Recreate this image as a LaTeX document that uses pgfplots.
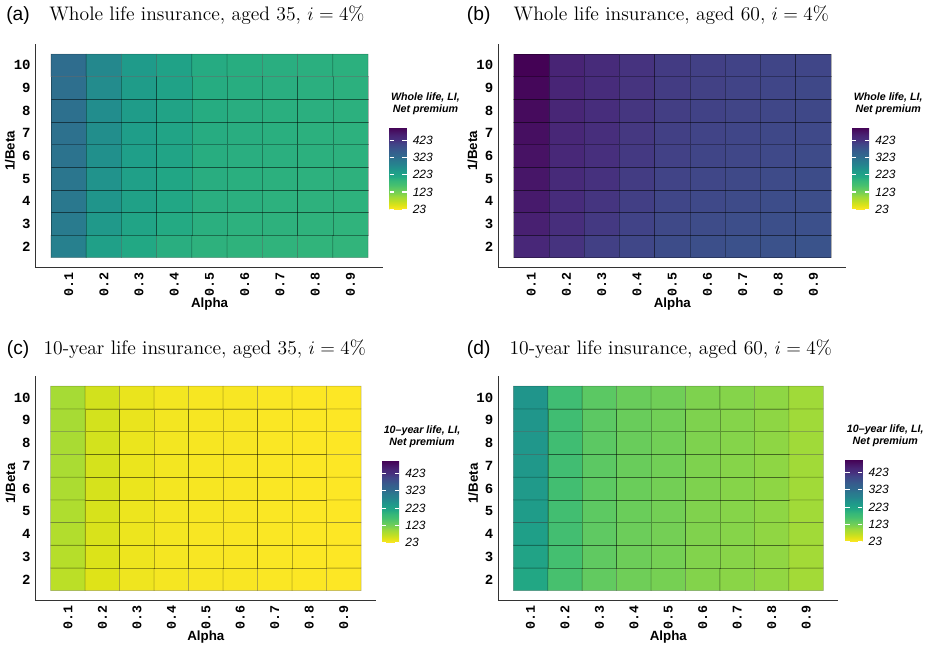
\documentclass[border=0pt]{standalone}
\usepackage{fontspec}
\usepackage{pgfplots}
\pgfplotsset{compat=1.18}
\newfontfamily\lsans{Liberation Sans}
\newfontfamily\lmono{Liberation Mono}

\pgfplotsset{
  colormap={viridisr}{rgb255=(253,231,37) rgb255=(223,227,24) rgb255=(189,223,38) rgb255=(160,218,57) rgb255=(122,209,81) rgb255=(94,201,98) rgb255=(68,191,112) rgb255=(53,183,121) rgb255=(34,168,132) rgb255=(31,158,137) rgb255=(33,145,140) rgb255=(38,130,142) rgb255=(42,120,142) rgb255=(49,104,142) rgb255=(53,95,141) rgb255=(59,82,139) rgb255=(65,68,135) rgb255=(71,47,125) rgb255=(72,36,117) rgb255=(71,19,101) rgb255=(68,1,84)},
  hm/.style={
    scale only axis, anchor=south west,
    xmin=0.07, xmax=9.93, ymin=1.06, ymax=10.94,
    axis x line=bottom, axis y line=left,
    axis line style={-, line width=0.8pt, black!80},
    major tick length=0pt,
    xtick={1,2,3,4,5,6,7,8,9},
    xticklabels={0.1,0.2,0.3,0.4,0.5,0.6,0.7,0.8,0.9},
    ytick={2,3,4,5,6,7,8,9,10},
    yticklabels={2,3,4,5,6,7,8,9,10},
    xticklabel style={rotate=90, anchor=east, inner sep=3.4pt, font=\fontsize{10}{10}\lmono\bfseries},
    yticklabel style={anchor=east, inner sep=0pt, xshift=-3.75pt, font=\fontsize{10.5}{10.5}\lmono\bfseries},
    xlabel={Alpha}, ylabel={1/Beta},
    every axis x label/.style={at={(axis description cs:0.5,-0.163)}, anchor=center, font=\fontsize{10}{10}\lsans\bfseries},
    every axis y label/.style={at={(axis description cs:-0.075,0.522)}, rotate=90, anchor=center, font=\fontsize{10}{10}\lsans\bfseries},
    colormap name=viridisr,
    point meta min=23, point meta max=497,
    colorbar,
  },
  cb/.style={
    at={(parent axis.south west)}, anchor=south west,
    scale only axis, width=12.75pt, height=61.5pt,
    ytick={23,123,223,323,423}, yticklabels={23,123,223,323,423},
    ytick pos=both, yticklabel pos=right, tick align=inside,
    major tick length=3.2pt,
    tick style={draw=white, line width=0.8pt},
    axis line style={draw=none},
    yticklabel style={anchor=west, inner sep=0pt, xshift=4.5pt, font=\fontsize{9}{9}\lsans\itshape},
    title style={at={(0,1)}, anchor=south west, align=center, inner sep=0pt, yshift=3.2pt, xshift=1pt, font=\fontsize{8}{9}\lsans\bfseries\itshape},
  },
  cells/.style={matrix plot*, mesh/cols=9, mesh/rows=9, point meta=explicit, draw=black, draw opacity=0.3, line width=0.4pt},
}

\begin{document}
\begin{tikzpicture}
\useasboundingbox (0,0) rectangle (695.25pt,486.75pt);

% titles
\node[anchor=base west, inner sep=0pt, font=\fontsize{14.4}{17}\lsans] at (4.5pt,471pt) {(a)};
\node[anchor=base west, inner sep=0pt, font=\fontsize{14.7}{17}\selectfont] at (36.75pt,471pt) {Whole life insurance, aged 35, $i=4\%$};
\node[anchor=base west, inner sep=0pt, font=\fontsize{14.4}{17}\lsans] at (350pt,471pt) {(b)};
\node[anchor=base west, inner sep=0pt, font=\fontsize{14.7}{17}\selectfont] at (385pt,471pt) {Whole life insurance, aged 60, $i=4\%$};
\node[anchor=base west, inner sep=0pt, font=\fontsize{14.4}{17}\lsans] at (5pt,220.5pt) {(c)};
\node[anchor=base west, inner sep=0pt, font=\fontsize{14.7}{17}\selectfont] at (32.5pt,220.5pt) {10-year life insurance, aged 35, $i=4\%$};
\node[anchor=base west, inner sep=0pt, font=\fontsize{14.4}{17}\lsans] at (350pt,220.5pt) {(d)};
\node[anchor=base west, inner sep=0pt, font=\fontsize{14.7}{17}\selectfont] at (382pt,220.5pt) {10-year life insurance, aged 60, $i=4\%$};

% (a)
\begin{axis}[hm, at={(26.9pt,285.98pt)}, width=260.5pt, height=167.7pt,
  colorbar style={cb, xshift=256.7pt, yshift=43.8pt, title={Whole life, LI,\\Net premium}}]
\addplot[cells] coordinates {
(1,2)[288] (2,2)[232] (3,2)[213] (4,2)[203] (5,2)[198] (6,2)[196] (7,2)[195] (8,2)[194] (9,2)[193]
(1,3)[300] (2,3)[245] (3,3)[222] (4,3)[210] (5,3)[201] (6,3)[199] (7,3)[198] (8,3)[196] (9,3)[195]
(1,4)[307] (2,4)[252] (3,4)[228] (4,4)[215] (5,4)[203] (6,4)[201] (7,4)[199] (8,4)[198] (9,4)[197]
(1,5)[311] (2,5)[257] (3,5)[232] (4,5)[218] (5,5)[204] (6,5)[202] (7,5)[200] (8,5)[199] (9,5)[198]
(1,6)[314] (2,6)[261] (3,6)[235] (4,6)[221] (5,6)[205] (6,6)[203] (7,6)[201] (8,6)[200] (9,6)[199]
(1,7)[317] (2,7)[264] (3,7)[237] (4,7)[223] (5,7)[206] (6,7)[204] (7,7)[202] (8,7)[200] (9,7)[199]
(1,8)[319] (2,8)[266] (3,8)[239] (4,8)[224] (5,8)[207] (6,8)[204] (7,8)[202] (8,8)[201] (9,8)[200]
(1,9)[321] (2,9)[268] (3,9)[240] (4,9)[226] (5,9)[207] (6,9)[205] (7,9)[203] (8,9)[201] (9,9)[200]
(1,10)[323] (2,10)[274] (3,10)[241] (4,10)[227] (5,10)[208] (6,10)[205] (7,10)[203] (8,10)[201] (9,10)[200]
};
\end{axis}

% (b)
\begin{axis}[hm, at={(373.9pt,285.98pt)}, width=260.7pt, height=167.7pt,
  colorbar style={cb, xshift=256.7pt, yshift=43.8pt, title={Whole life, LI,\\Net premium}}]
\addplot[cells] coordinates {
(1,2)[442] (2,2)[421] (3,2)[407] (4,2)[397] (5,2)[388] (6,2)[383] (7,2)[380] (8,2)[378] (9,2)[376]
(1,3)[455] (2,3)[428] (3,3)[414] (4,3)[403] (5,3)[394] (6,3)[389] (7,3)[386] (8,3)[383] (9,3)[381]
(1,4)[463] (2,4)[433] (3,4)[419] (4,4)[408] (5,4)[398] (6,4)[393] (7,4)[390] (8,4)[387] (9,4)[385]
(1,5)[469] (2,5)[437] (3,5)[423] (4,5)[411] (5,5)[402] (6,5)[397] (7,5)[394] (8,5)[391] (9,5)[388]
(1,6)[474] (2,6)[440] (3,6)[426] (4,6)[414] (5,6)[405] (6,6)[400] (7,6)[397] (8,6)[393] (9,6)[391]
(1,7)[479] (2,7)[443] (3,7)[428] (4,7)[416] (5,7)[407] (6,7)[402] (7,7)[399] (8,7)[395] (9,7)[393]
(1,8)[484] (2,8)[446] (3,8)[430] (4,8)[418] (5,8)[409] (6,8)[404] (7,8)[401] (8,8)[397] (9,8)[395]
(1,9)[489] (2,9)[448] (3,9)[433] (4,9)[420] (5,9)[411] (6,9)[406] (7,9)[402] (8,9)[399] (9,9)[396]
(1,10)[495] (2,10)[450] (3,10)[435] (4,10)[421] (5,10)[412] (6,10)[407] (7,10)[403] (8,10)[400] (9,10)[398]
};
\end{axis}

% (c)
\begin{axis}[hm, at={(26.9pt,36.2pt)}, width=255pt, height=168.5pt,
  colorbar style={cb, xshift=251.2pt, yshift=43.5pt, title={10–year life, LI,\\Net premium}}]
\addplot[cells] coordinates {
(1,2)[72] (2,2)[47] (3,2)[34] (4,2)[29] (5,2)[27] (6,2)[26] (7,2)[25] (8,2)[24] (9,2)[23]
(1,3)[76] (2,3)[49] (3,3)[35] (4,3)[29] (5,3)[27] (6,3)[26] (7,3)[25] (8,3)[24] (9,3)[23]
(1,4)[79] (2,4)[51] (3,4)[36] (4,4)[30] (5,4)[27] (6,4)[26] (7,4)[25] (8,4)[24] (9,4)[23]
(1,5)[82] (2,5)[52] (3,5)[36] (4,5)[30] (5,5)[28] (6,5)[26] (7,5)[25] (8,5)[24] (9,5)[23]
(1,6)[84] (2,6)[53] (3,6)[37] (4,6)[30] (5,6)[28] (6,6)[26] (7,6)[25] (8,6)[24] (9,6)[23]
(1,7)[86] (2,7)[54] (3,7)[37] (4,7)[31] (5,7)[28] (6,7)[26] (7,7)[25] (8,7)[24] (9,7)[23]
(1,8)[87] (2,8)[55] (3,8)[37] (4,8)[31] (5,8)[28] (6,8)[27] (7,8)[25] (8,8)[24] (9,8)[23]
(1,9)[88] (2,9)[55] (3,9)[38] (4,9)[31] (5,9)[28] (6,9)[27] (7,9)[25] (8,9)[24] (9,9)[23]
(1,10)[89] (2,10)[56] (3,10)[38] (4,10)[31] (5,10)[28] (6,10)[27] (7,10)[25] (8,10)[24] (9,10)[23]
};
\end{axis}

% (d)
\begin{axis}[hm, at={(373.9pt,36.2pt)}, width=254.7pt, height=168.5pt,
  colorbar style={cb, xshift=251.6pt, yshift=44.25pt, title={10–year life, LI,\\Net premium}}]
\addplot[cells] coordinates {
(1,2)[214] (2,2)[162] (3,2)[138] (4,2)[127] (5,2)[121] (6,2)[112] (7,2)[108] (8,2)[103] (9,2)[92]
(1,3)[224] (2,3)[165] (3,3)[140] (4,3)[129] (5,3)[122] (6,3)[113] (7,3)[109] (8,3)[104] (9,3)[92]
(1,4)[233] (2,4)[167] (3,4)[141] (4,4)[130] (5,4)[123] (6,4)[114] (7,4)[110] (8,4)[104] (9,4)[93]
(1,5)[240] (2,5)[168] (3,5)[142] (4,5)[131] (5,5)[124] (6,5)[114] (7,5)[110] (8,5)[105] (9,5)[93]
(1,6)[244] (2,6)[169] (3,6)[142] (4,6)[131] (5,6)[124] (6,6)[115] (7,6)[110] (8,6)[105] (9,6)[93]
(1,7)[247] (2,7)[170] (3,7)[143] (4,7)[132] (5,7)[125] (6,7)[115] (7,7)[110] (8,7)[105] (9,7)[93]
(1,8)[249] (2,8)[171] (3,8)[143] (4,8)[132] (5,8)[125] (6,8)[115] (7,8)[111] (8,8)[105] (9,8)[94]
(1,9)[251] (2,9)[171] (3,9)[143] (4,9)[132] (5,9)[125] (6,9)[115] (7,9)[111] (8,9)[105] (9,9)[94]
(1,10)[252] (2,10)[172] (3,10)[144] (4,10)[132] (5,10)[126] (6,10)[115] (7,10)[111] (8,10)[105] (9,10)[94]
};
\end{axis}
\end{tikzpicture}
\end{document}
